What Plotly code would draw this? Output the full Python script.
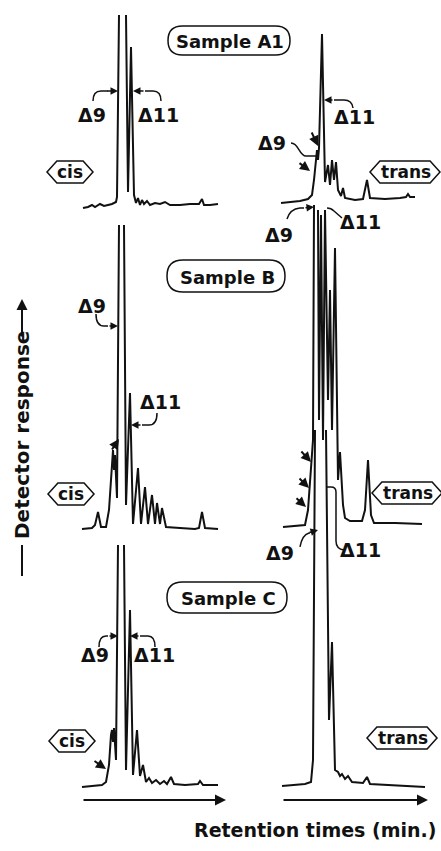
import plotly.graph_objects as go

W, H = 441, 851
FONT = "DejaVu Sans"
INK = "#111111"

# ---------------- data: retention time (min) vs detector response (arb. units) ----------------
# Sample A1, cis fraction
cis_a_time = [0.1, 0.6, 1.0, 1.3, 1.8, 2.2, 2.6, 3.0, 3.4, 3.5, 3.7, None, 4.4, 4.6, 4.9, 5.2, 5.4, 5.6, 5.8, 6.0,
              6.2, 6.5, 6.8, 7.3, 7.8, 8.3, 8.8, 9.8, 10.8, 11.7, 12.0, 12.2, 12.8, 13.6]
cis_a_resp = [-0.1, 0.0, 0.2, 0.0, 0.3, 0.1, 0.2, 0.3, 0.5, 1.0, 19.2, None, 19.2, 1.5, 16.0, 1.2, 0.4, 0.9, 0.2, 0.7,
              0.3, 0.6, 0.2, 0.4, 0.3, 0.5, 0.2, 0.2, 0.3, 0.3, 0.8, 0.2, 0.2, 0.3]
# Sample B, cis fraction
cis_b_time = [0.0, 1.0, 1.3, 1.6, 1.9, 2.4, 2.7, 3.0, 3.1, 3.2, 3.3, 3.5, 3.7, None, 4.2, 4.4, 4.8, 5.1, 5.6, 5.9,
              6.3, 6.6, 7.0, 7.3, 7.5, 7.8, 8.0, 8.4, 9.8, 11.3, 11.7, 12.0, 12.3, 13.6]
cis_b_resp = [-0.1, 0.0, 0.3, 1.6, 0.1, 0.1, 1.8, 6.8, 7.8, 5.8, 7.3, 3.0, 30.3, None, 30.3, 2.3, 13.5, 0.4, 6.0, 0.4,
              4.1, 0.4, 3.3, 0.4, 2.5, 0.4, 2.0, 0.1, 0.0, -0.1, 0.0, 1.6, 0.0, -0.1]
# Sample C, cis fraction
cis_c_time = [0.0, 0.8, 1.5, 2.0, 2.4, 2.7, 2.9, 3.0, 3.1, 3.2, 3.4, 3.6, None, 4.2, 4.4, 4.8, 5.1, 5.5, 5.8, 6.1,
              6.4, 6.7, 7.0, 7.4, 7.8, 8.2, 8.5, 8.9, 9.2, 10.3, 11.6, 11.8, 12.1, 13.6]
cis_c_resp = [-0.1, 0.0, 0.1, 0.1, 0.4, 2.1, 5.1, 5.6, 4.4, 5.8, 2.6, 24.1, None, 24.1, 1.6, 17.6, 1.1, 5.6, 1.0, 2.1,
              0.4, 0.8, 0.3, 0.6, 0.2, 0.5, 0.2, 0.9, 0.2, 0.1, 0.2, 0.5, 0.1, 0.1]
# Sample A1, trans fraction
trans_a_time = [-0.1, 0.8, 1.8, 2.6, 3.0, 3.2, 3.4, 3.5, 3.6, 3.7, 4.0, 4.3, 4.6, 4.8, 5.0, 5.2, 5.4, 5.6, 5.9, 6.1,
                6.3, 7.3, 8.1, 8.5, 8.8, 10.3, 11.8, 12.4, 12.6, 12.8, 13.3]
trans_a_resp = [-0.2, -0.1, 0.0, 0.2, 0.6, 2.1, 4.3, 5.1, 4.1, 5.3, 16.7, 1.9, 3.6, 1.6, 4.1, 2.1, 3.9, 1.1, 0.5, 1.3,
                0.3, 0.1, 0.2, 2.1, 0.3, 0.2, 0.3, 0.4, 0.7, 0.4, 0.4]
# Sample B, trans fraction
trans_b_time = [0.1, 1.3, 2.3, 2.6, 2.8, 3.0, 3.1, 3.2, None, 3.6, 3.7, 3.9, 4.1, 4.3, 4.6, 4.8, 5.0, 5.3, 5.6, 5.8,
                6.1, 6.3, 6.8, 8.0, 8.3, 8.6, 8.9, 9.2, 11.3, 14.0]
trans_b_resp = [-0.2, -0.1, 0.0, 1.5, 4.2, 6.5, 8.5, 32.0, None, 31.5, 10.5, 31.0, 8.5, 31.5, 12.5, 23.5, 9.5, 27.7,
                4.5, 7.3, 2.0, 0.7, 0.4, 0.4, 1.5, 6.5, 1.0, 0.2, 0.2, 0.1]
# Sample C, trans fraction
trans_c_time = [0.0, 1.3, 2.3, 2.9, 3.1, 3.3, None, 4.4, 4.7, 5.0, 5.3, 5.6, 5.8, 6.0, 6.3, 6.6, 7.0, 8.1, 8.5, 8.8,
                10.8, 12.8, 14.3]
trans_c_resp = [-0.1, 0.0, 0.1, 0.3, 2.5, 35.5, None, 35.5, 6.5, 14.3, 1.5, 1.3, 0.9, 1.1, 0.6, 0.9, 0.3, 0.2, 0.8,
                0.1, 0.0, -0.1, -0.2]

sample_labels = ["Sample A1", "Sample B", "Sample C"]
fraction_labels = ["cis", "trans"]
x_title = "Retention times (min.)"
y_title = "Detector response"

# ---------------- layout: where each chromatogram sits (pixel of t=0, pixel of baseline) ----------------
PX_PER_UNIT = 10.0
panels = [
    (cis_a_time, cis_a_resp, 82, 207),
    (cis_b_time, cis_b_resp, 82, 528),
    (cis_c_time, cis_c_resp, 82, 786),
    (trans_a_time, trans_a_resp, 282, 201),
    (trans_b_time, trans_b_resp, 282, 525),
    (trans_c_time, trans_c_resp, 282, 785),
]

fig = go.Figure()
layout_axes = {}
for i, (t, r, x0, yb) in enumerate(panels):
    n = "" if i == 0 else str(i + 1)
    xa = dict(domain=[0, 1], range=[-x0 / PX_PER_UNIT, (W - x0) / PX_PER_UNIT], visible=False,
              fixedrange=True, anchor="y" + n)
    ya = dict(domain=[0, 1], range=[(yb - H) / PX_PER_UNIT, yb / PX_PER_UNIT], visible=False,
              fixedrange=True, anchor="x" + n)
    if i > 0:
        xa["overlaying"] = "x"
        ya["overlaying"] = "y"
    layout_axes["xaxis" + n] = xa
    layout_axes["yaxis" + n] = ya
    fig.add_trace(go.Scatter(x=t, y=r, xaxis="x" + n, yaxis="y" + n, mode="lines",
                             line=dict(color=INK, width=2), connectgaps=False,
                             hoverinfo="skip", showlegend=False))


def pp(x, y):
    return f"{x / W:.5f},{1 - y / H:.5f}"


shapes = []
annotations = []


def add_path(d, width=1.5):
    shapes.append(dict(type="path", xref="paper", yref="paper", path=d,
                       line=dict(color=INK, width=width), fillcolor="rgba(0,0,0,0)"))


def add_arrow(tail, head, width=1.5, size=1.0, head_style=2):
    annotations.append(dict(x=head[0] / W, y=1 - head[1] / H, xref="paper", yref="paper",
                            ax=tail[0] - head[0], ay=tail[1] - head[1], axref="pixel", ayref="pixel",
                            text="", showarrow=True, arrowhead=head_style, arrowsize=size,
                            arrowwidth=width, arrowcolor=INK, standoff=0, startstandoff=0))


def add_text(x, y, s, size=19, angle=0):
    annotations.append(dict(x=x / W, y=1 - y / H, xref="paper", yref="paper", text="<b>" + s + "</b>",
                            showarrow=False, textangle=angle, xanchor="center", yanchor="middle",
                            font=dict(family=FONT, size=size, color=INK)))


def stadium(x0, y0, x1, y1):
    r = (y1 - y0) / 2
    ym = (y0 + y1) / 2
    d = (f"M{pp(x0 + r, y0)} L{pp(x1 - r, y0)} Q{pp(x1, y0)} {pp(x1, ym)} Q{pp(x1, y1)} {pp(x1 - r, y1)} "
         f"L{pp(x0 + r, y1)} Q{pp(x0, y1)} {pp(x0, ym)} Q{pp(x0, y0)} {pp(x0 + r, y0)} Z")
    add_path(d, width=1.5)


def hexagon(cx, cy, w, h):
    x0, x1 = cx - w / 2, cx + w / 2
    y0, y1 = cy - h / 2, cy + h / 2
    k = h * 0.45
    d = (f"M{pp(x0, cy)} L{pp(x0 + k, y0)} L{pp(x1 - k, y0)} L{pp(x1, cy)} "
         f"L{pp(x1 - k, y1)} L{pp(x0 + k, y1)} Z")
    add_path(d, width=1.5)


# sample boxes
for label, (x0, y0, x1, y1) in zip(sample_labels, [(168, 26, 290, 55), (167, 260, 285, 292), (167, 582, 287, 613)]):
    stadium(x0, y0, x1, y1)
    add_text((x0 + x1) / 2 + 1, (y0 + y1) / 2 + 1, label, size=18)

# cis / trans hexagon labels
for (cx, cy) in [(70, 172), (71, 494), (72, 741)]:
    hexagon(cx, cy, 46, 22)
    add_text(cx, cy, fraction_labels[0], size=17)
for (cx, cy) in [(405, 172), (407, 493), (402, 738)]:
    hexagon(cx, cy, 70, 22)
    add_text(cx + 1, cy, fraction_labels[1], size=17)

# delta labels
for (x, y, s) in [(92, 115, "Δ9"), (158, 115, "Δ11"), (92, 306, "Δ9"), (160, 402, "Δ11"),
                  (95, 655, "Δ9"), (154, 655, "Δ11"), (272, 143, "Δ9"), (354, 117, "Δ11"),
                  (279, 235, "Δ9"), (360, 222, "Δ11"), (280, 553, "Δ9"), (360, 550, "Δ11")]:
    add_text(x, y, s, size=19)

# hooks from labels to peaks
add_path(f"M{pp(93,101)} Q{pp(93,91)} {pp(101,91)} L{pp(108,91)}")
add_arrow((106, 91), (118, 91))
add_path(f"M{pp(161,101)} Q{pp(161,91)} {pp(153,91)} L{pp(145,91)}")
add_arrow((145, 91), (133, 91))

add_path(f"M{pp(96,314)} Q{pp(96,326)} {pp(104,326)} L{pp(108,326)}")
add_arrow((108, 326), (118, 326))
add_path(f"M{pp(157,413)} Q{pp(157,425)} {pp(149,425)} L{pp(142,425)}")
add_arrow((142, 425), (131, 425))
add_arrow((111, 451), (119, 439), width=2)

add_path(f"M{pp(99,647)} Q{pp(99,636)} {pp(106,636)} L{pp(108,636)}")
add_arrow((108, 636), (118, 636))
add_path(f"M{pp(155,647)} Q{pp(155,636)} {pp(148,636)} L{pp(140,636)}")
add_arrow((140, 636), (130, 636))
add_arrow((93, 760), (106, 769), width=2)

add_path(f"M{pp(291,143)} C{pp(299,143)} {pp(299,156)} {pp(306,156)} L{pp(316,156)}")
add_arrow((311, 131), (318, 146), width=2)
add_arrow((298, 162), (310, 171), width=2)
add_path(f"M{pp(353,108)} Q{pp(352,100)} {pp(344,100)} L{pp(334,100)}")
add_arrow((334, 100), (324, 100))

add_path(f"M{pp(287,219)} Q{pp(290,209)} {pp(300,208)} L{pp(304,208)}")
add_arrow((304, 208), (314, 207))
add_path(f"M{pp(342,218)} L{pp(334,211)} Q{pp(331,208)} {pp(327,208)}")
add_arrow((300, 450), (311, 462), width=2)
add_arrow((298, 477), (309, 488), width=2)
add_arrow((295, 497), (306, 507), width=2)

add_path(f"M{pp(300,547)} Q{pp(302,535)} {pp(309,533)} L{pp(310,533)}")
add_arrow((308, 533), (318, 530))
add_path(f"M{pp(344,550)} Q{pp(336,549)} {pp(336,541)} L{pp(336,492)} Q{pp(336,487)} {pp(331,487)} L{pp(327,487)}")

# time axes (arrows) at the bottom
add_arrow((82, 800), (226, 800), width=2, size=1.1)
add_arrow((282, 800), (428, 800), width=2, size=1.1)
add_text(315, 830, x_title, size=19)

# detector response axis label
add_text(22, 435, y_title, size=20, angle=-90)
shapes.append(dict(type="line", xref="paper", yref="paper", x0=22 / W, x1=22 / W,
                   y0=1 - 545 / H, y1=1 - 576 / H, line=dict(color=INK, width=2)))
add_arrow((22, 338), (22, 299), width=2, size=1.1)

fig.update_layout(
    width=W, height=H, margin=dict(l=0, r=0, t=0, b=0),
    paper_bgcolor="white", plot_bgcolor="rgba(0,0,0,0)",
    showlegend=False, shapes=shapes, annotations=annotations,
    font=dict(family=FONT, color=INK),
    **layout_axes,
)

fig.write_html("out.html", config={"displayModeBar": False, "staticPlot": True},
               post_script="document.body.style.margin='0';document.body.style.overflow='hidden';")
